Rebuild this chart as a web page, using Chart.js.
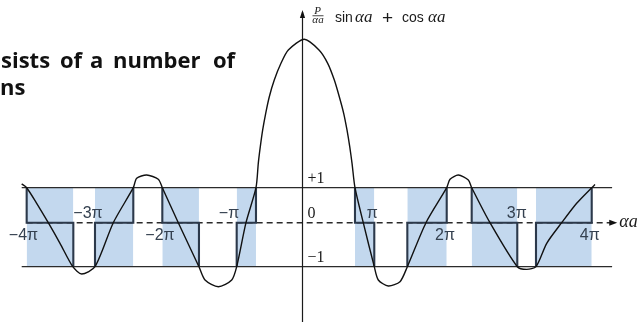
<!DOCTYPE html>
<html>
<head>
<meta charset="utf-8">
<script src="https://cdn.jsdelivr.net/npm/chart.js@4.4.0/dist/chart.umd.min.js"></script>
<style>
  html, body { margin: 0; padding: 0; background: #fff; }
  canvas { display: block; }
</style>
</head>
<body>
<canvas id="c" width="642" height="325"></canvas>
<script>
// Kronig–Penney: f(αa) = (P/αa)·sin αa + cos αa, αa measured in units of π.
const curveX = [-3.900, -3.831, -3.692, -3.531, -3.368, -3.190, -3.067, -2.882, -2.628, -2.350,
                -2.303, -2.164, -2.003, -1.947, -1.725, -1.438, -1.354, -1.169, -0.983, -0.914,
                -0.785, -0.646, -0.614, -0.586, -0.553, -0.511, -0.461, -0.392, -0.299, -0.197,
                0.025, 0.229, 0.350, 0.442, 0.511, 0.572, 0.618, 0.656, 0.688, 0.729,
                0.844, 0.997, 1.053, 1.192, 1.354, 1.456, 1.715, 2.003, 2.049, 2.164,
                2.303, 2.350, 2.604, 2.983, 3.114, 3.243, 3.392, 3.600, 3.808, 4.017,
                4.063];
const curveY = [1.11, 1.00, 0.554, 0.00, -0.468, -1.00, -1.166, -1.00, 0.00, 1.00,
                1.269, 1.363, 1.24, 1.00, 0.00, -1.00, -1.302, -1.455, -1.302, -1.00,
                0.00, 1.00, 1.697, 2.171, 2.649, 3.126, 3.60, 4.077, 4.554, 4.934,
                5.24, 4.934, 4.554, 4.077, 3.60, 3.126, 2.649, 2.171, 1.697, 1.00,
                0.00, -1.00, -1.302, -1.439, -1.341, -1.00, 0.00, 1.00, 1.24, 1.363,
                1.22, 1.00, 0.00, -1.00, -1.06, -1.00, -0.468, 0.00, 0.554, 1.00,
                1.09];

// Allowed bands (|f| ≤ 1) and the level at which the curve enters each band
const bandStart = [-3.831, -2.882, -1.947, -0.914, 0.729, 1.456, 2.350, 3.243];
const bandEnd   = [-3.183, -2.350, -1.438, -0.646, 0.997, 2.003, 2.983, 4.017];
const bandEntry = [1, -1, 1, -1, 1, -1, 1, -1];

// Labels along the αa axis
const tickLabels = ['−4π', '−3π', '−2π', '−π', 'π', '2π', '3π', '4π'];
const tickAt     = [-3.875, -2.98, -1.98, -1.02, 0.97, 1.98, 2.975, 3.99];
const tickSide   = ['below', 'above', 'below', 'above', 'above', 'below', 'above', 'below'];

// Reference levels on the vertical axis
const levelLabels = ['+1', '0', '−1'];
const levelValues = [1, 0, -1];
const levelSpan   = [-3.90, 4.30];
const axisSpanX   = [-3.831, 4.33];
const axisSpanY   = [6.02, -2.257];

// Negative values are drawn on a slightly longer unit than positive ones
const NEG_STRETCH = 44 / 35;
class SplitLinearScale extends Chart.LinearScale {
  getPixelForValue(value) {
    if (value === null || value === undefined) return NaN;
    return super.getPixelForValue(value < 0 ? value * NEG_STRETCH : value);
  }
  getValueForPixel(pixel) {
    const v = super.getValueForPixel(pixel);
    return v < 0 ? v / NEG_STRETCH : v;
  }
}
SplitLinearScale.id = 'splitLinear';
SplitLinearScale.defaults = Chart.LinearScale.defaults;
Chart.register(SplitLinearScale);

const pts = (xs, ys) => xs.map((x, i) => ({ x, y: ys[i] }));

const bandFills = bandStart.map((a, i) => ({
  data: [{ x: a, y: 1 }, { x: bandEnd[i], y: 1 }],
  fill: { value: -1 },
  backgroundColor: '#c3d8ee',
  borderWidth: 0,
  pointRadius: 0,
  order: 10
}));

const bandSteps = bandStart.map((a, i) => {
  const s = bandEntry[i], b = bandEnd[i];
  return {
    data: [{ x: a, y: s }, { x: a, y: 0 }, { x: b, y: 0 }, { x: b, y: -s }],
    borderColor: '#2c394b',
    borderWidth: 2.1,
    pointRadius: 0,
    fill: false,
    order: 4
  };
});

const levelLines = [1, -1].map(v => ({
  data: [{ x: levelSpan[0], y: v }, { x: levelSpan[1], y: v }],
  borderColor: '#2b2b2b',
  borderWidth: 1.3,
  pointRadius: 0,
  fill: false,
  order: 6
}));

const zeroLine = {
  data: [{ x: axisSpanX[0], y: 0 }, { x: axisSpanX[1], y: 0 }],
  borderColor: '#2b2b2b',
  borderWidth: 1.4,
  borderDash: [6, 4],
  pointRadius: 0,
  fill: false,
  order: 7
};

const verticalAxis = {
  data: [{ x: 0, y: axisSpanY[0] }, { x: 0, y: axisSpanY[1] }],
  borderColor: '#1a1a1a',
  borderWidth: 1.2,
  pointRadius: 0,
  fill: false,
  order: 3
};

const curve = {
  data: pts(curveX, curveY),
  borderColor: '#111',
  borderWidth: 1.4,
  pointRadius: 0,
  fill: false,
  tension: 0.25,
  order: 1
};

// Arrowheads, axis labels and the running text around the figure
const annotations = {
  id: 'annotations',
  afterDatasetsDraw(chart) {
    const { ctx } = chart;
    const xs = chart.scales.x, ys = chart.scales.y;
    const px = v => xs.getPixelForValue(v), py = v => ys.getPixelForValue(v);
    ctx.save();
    ctx.fillStyle = '#111';

    // arrow on top of the vertical axis
    const ax = px(0), ay = py(axisSpanY[0]);
    ctx.beginPath();
    ctx.moveTo(ax, ay - 2);
    ctx.lineTo(ax - 2.6, ay + 6);
    ctx.lineTo(ax + 2.6, ay + 6);
    ctx.closePath();
    ctx.fill();

    // arrow at the end of the αa axis
    const rx = px(axisSpanX[1]), ry = py(0);
    ctx.beginPath();
    ctx.moveTo(rx + 3, ry);
    ctx.lineTo(rx - 5, ry - 3);
    ctx.lineTo(rx - 5, ry + 3);
    ctx.closePath();
    ctx.fill();

    // multiples of π
    ctx.fillStyle = '#34404f';
    ctx.font = '16px "Liberation Sans", Arial, sans-serif';
    ctx.textAlign = 'center';
    ctx.textBaseline = 'middle';
    tickLabels.forEach((t, i) => {
      const y = tickSide[i] === 'above' ? py(0) - 9 : py(0) + 12.5;
      ctx.fillText(t, px(tickAt[i]), y);
    });

    // +1, 0, −1
    ctx.fillStyle = '#1a1a1a';
    ctx.font = '16px "Liberation Serif", "Times New Roman", serif';
    ctx.textAlign = 'left';
    levelLabels.forEach((t, i) => {
      ctx.fillText(t, px(0) + 5, py(levelValues[i]) - 8.5);
    });

    // αa at the end of the horizontal axis
    ctx.font = 'italic 18px "Liberation Serif", serif';
    ctx.fillText('αa', rx + 5, ry);

    // axis title: (P/αa) sin αa + cos αa
    ctx.textBaseline = 'alphabetic';
    ctx.textAlign = 'center';
    ctx.font = 'italic 11px "Liberation Serif", serif';
    ctx.fillText('P', ax + 15, 13.5);
    ctx.fillText('αa', ax + 15.5, 23);
    ctx.fillRect(ax + 10, 15.4, 11, 0.8);
    ctx.textAlign = 'left';
    ctx.font = '14px "Liberation Sans", Arial, sans-serif';
    ctx.fillText('sin', ax + 32.5, 22);
    ctx.fillText('cos', ax + 99.5, 22);
    ctx.font = '19px "Liberation Sans", Arial, sans-serif';
    ctx.fillText('+', ax + 79.5, 23.5);
    ctx.font = 'italic 17px "Liberation Serif", serif';
    ctx.fillText('αa', ax + 52.5, 22);
    ctx.fillText('αa', ax + 125.5, 22);

    // running text of the page
    ctx.fillStyle = '#111';
    ctx.font = 'bold 22px "Open Sans", sans-serif';
    [['sists', 1], ['of', 60], ['a', 90], ['number', 113], ['of', 213]].forEach(([w, x]) => {
      ctx.fillText(w, x, 68);
    });
    ctx.fillText('ns', 0, 95);
    ctx.restore();
  }
};

new Chart(document.getElementById('c'), {
  type: 'line',
  data: {
    datasets: [curve, verticalAxis, ...bandSteps, ...levelLines, zeroLine, ...bandFills]
  },
  options: {
    responsive: false,
    animation: false,
    devicePixelRatio: 1,
    layout: { padding: 0 },
    plugins: { legend: { display: false }, tooltip: { enabled: false } },
    elements: { line: { tension: 0 } },
    scales: {
      x: { type: 'linear', display: false, min: -4.2014, max: 4.7153 },
      y: { type: 'splitLinear', display: false, min: -2.923, max: 6.363 }
    }
  },
  plugins: [annotations]
});
</script>
</body>
</html>
